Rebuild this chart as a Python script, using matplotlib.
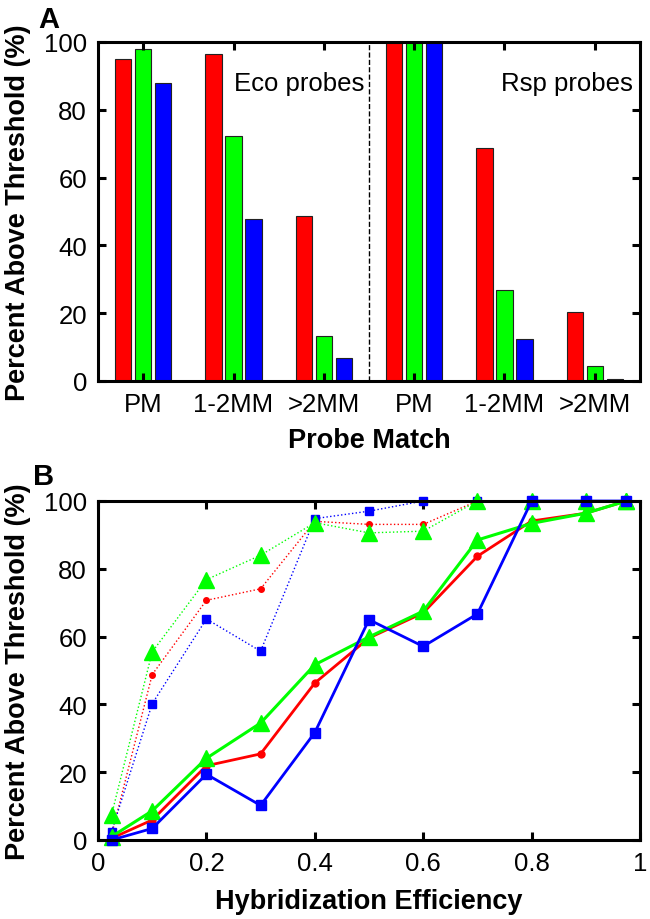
import numpy as np
import matplotlib
matplotlib.use('Agg')
import matplotlib.pyplot as plt

plt.rcParams['font.family'] = ['Liberation Sans', 'DejaVu Sans']

# %% panel A data
groups = ['PM', '1-2MM', '>2MM', 'PM', '1-2MM', '>2MM']
red_bars = [95.1, 96.6, 48.8, 100.0, 68.8, 20.4]
green_bars = [97.8, 72.3, 13.3, 100.0, 26.8, 4.4]
blue_bars = [87.8, 47.8, 6.8, 100.0, 12.4, 0.5]

# %% panel B data
eff = [0.025, 0.1, 0.2, 0.3, 0.4, 0.5, 0.6, 0.7, 0.8, 0.9, 0.975]
red_solid = [0.5, 5.9, 21.9, 25.4, 46.3, 59.6, 67.0, 83.7, 94.1, 96.4, 100]
green_solid = [1.0, 8.6, 24.1, 34.5, 51.7, 59.9, 67.5, 88.5, 93.4, 96.4, 100]
blue_solid = [0.0, 3.4, 19.4, 10.2, 31.7, 65.0, 57.1, 66.7, 100, 100, 100]
red_dot = [1.5, 48.8, 70.7, 74.1, 94.0, 93.1, 93.1, 100, 100, 100, 100]
green_dot = [7.4, 55.5, 76.8, 84.0, 93.6, 90.6, 91.1, 100, 100, 100, 100]
blue_dot = [2.5, 40.2, 65.2, 55.7, 94.8, 97.0, 100, 100, 100, 100, 100]

RED, GREEN, BLUE = '#ff0000', '#00ff00', '#0000ff'
TICK_FS = 18.5
LABEL_FS = 19.5


def style_axes(ax):
    for s in ax.spines.values():
        s.set_linewidth(2.2)
    ax.tick_params(direction='in', length=6, width=2.2, top=True,
                   right=True, labelsize=TICK_FS, pad=8)


fig = plt.figure(figsize=(6.5, 9.2), dpi=100)

# %% panel A
ax_a = fig.add_axes([98 / 650, 1 - 382 / 920, 542 / 650, 339 / 920])
x = np.arange(1, len(groups) + 1)
w = 0.18
ax_a.bar(x - 0.22, red_bars, w, color=RED, edgecolor='#222222', lw=0.8)
ax_a.bar(x, green_bars, w, color=GREEN, edgecolor='#222222', lw=0.8)
ax_a.bar(x + 0.22, blue_bars, w, color=BLUE, edgecolor='#222222', lw=0.8)
ax_a.axvline(3.5, color='k', ls='--', lw=1)
ax_a.set_xlim(0.5, 6.5)
ax_a.set_ylim(0, 100)
ax_a.set_xticks(x)
ax_a.set_xticklabels(groups)
ax_a.set_yticks(np.arange(0, 101, 20))
style_axes(ax_a)
ax_a.set_ylabel('Percent Above Threshold (%)', fontsize=LABEL_FS,
                fontweight='bold', labelpad=9)
ax_a.set_xlabel('Probe Match', fontsize=LABEL_FS, fontweight='bold',
                labelpad=8)
ax_a.text(3.45, 88, 'Eco probes', ha='right', va='center', fontsize=TICK_FS)
ax_a.text(6.42, 88, 'Rsp probes', ha='right', va='center', fontsize=TICK_FS)
fig.text(38 / 650, 1 - 28 / 920, 'A', fontsize=21, fontweight='bold')

# %% panel B
ax_b = fig.add_axes([98 / 650, 1 - 841 / 920, 542 / 650, 339 / 920])
ax_b.plot(eff, red_dot, ':', color=RED, marker='o', ms=4, lw=1, clip_on=False)
ax_b.plot(eff, blue_dot, ':', color=BLUE, marker='s', ms=6, lw=1,
          clip_on=False)
ax_b.plot(eff, green_dot, ':', color=GREEN, marker='^', ms=11, lw=1,
          clip_on=False)
ax_b.plot(eff, red_solid, '-', color=RED, marker='o', ms=5, lw=2,
          clip_on=False)
ax_b.plot(eff, green_solid, '-', color=GREEN, marker='^', ms=11, lw=2.2,
          clip_on=False)
ax_b.plot(eff, blue_solid, '-', color=BLUE, marker='s', ms=7, lw=2,
          clip_on=False)
ax_b.set_xlim(0, 1)
ax_b.set_ylim(0, 100)
ax_b.set_xticks([0, 0.2, 0.4, 0.6, 0.8, 1])
ax_b.set_xticklabels(['0', '0.2', '0.4', '0.6', '0.8', '1'])
ax_b.set_yticks(np.arange(0, 101, 20))
style_axes(ax_b)
ax_b.set_ylabel('Percent Above Threshold (%)', fontsize=LABEL_FS,
                fontweight='bold', labelpad=9)
ax_b.set_xlabel('Hybridization Efficiency', fontsize=LABEL_FS,
                fontweight='bold', labelpad=9)
fig.text(33 / 650, 1 - 485 / 920, 'B', fontsize=21, fontweight='bold')

plt.savefig('out.png', dpi=100)
